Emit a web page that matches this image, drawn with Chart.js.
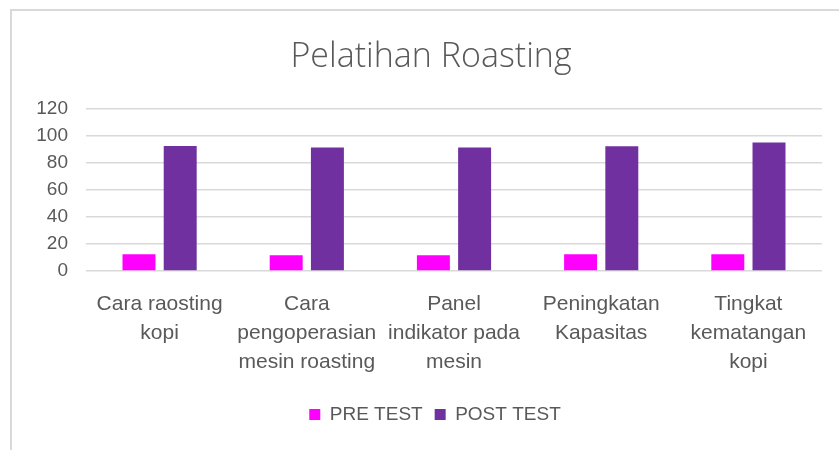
<!DOCTYPE html>
<html>
<head>
<meta charset="utf-8">
<script src="https://cdn.jsdelivr.net/npm/chart.js@4/dist/chart.umd.min.js"></script>
<style>
    html, body { margin: 0; padding: 0; background: #fff; }
    #wrap { position: relative; width: 839px; height: 450px; overflow: hidden; }
    #frame { position: absolute; left: 10px; top: 9px; width: 900px; height: 500px;
             border-top: 2px solid #d9d9d9; border-left: 2px solid #d9d9d9; }
    canvas { position: absolute; left: 0; top: 0; }
</style>
</head>
<body>
<div id="wrap">
    <div id="frame"></div>
    <canvas id="roastChart" width="839" height="450"></canvas>
</div>
<script>
const categories = [
    ['Cara raosting', 'kopi'],
    ['Cara', 'pengoperasian', 'mesin roasting'],
    ['Panel', 'indikator pada', 'mesin'],
    ['Peningkatan', 'Kapasitas'],
    ['Tingkat', 'kematangan', 'kopi'],
];
const preTest = [12.3, 11.6, 11.6, 12.3, 12.3];
const postTest = [92.5, 91.4, 91.4, 92.3, 95];
const yTicks = [0, 20, 40, 60, 80, 100, 120];

const fontFamily = '"Liberation Sans Narrow", "Liberation Sans", sans-serif';
const textColor = '#595959';

// nudge the title and legend a bit to the right, like the original
const blockShift = {
    id: 'blockShift',
    afterLayout(chart) {
        if (chart.legend) chart.legend.left += 48;
        if (chart.titleBlock) chart.titleBlock.left += 40;
    },
};

new Chart(document.getElementById('roastChart'), {
    type: 'bar',
    data: {
        labels: categories,
        datasets: [{
            label: 'PRE TEST',
            data: preTest,
            backgroundColor: '#ff00ff',
            categoryPercentage: 0.56,
            barPercentage: 0.8,
        }, {
            label: 'POST TEST',
            data: postTest,
            backgroundColor: '#7030a0',
            categoryPercentage: 0.56,
            barPercentage: 0.8,
        }],
    },
    options: {
        responsive: false,
        animation: false,
        layout: {
            padding: { left: 0, right: 17, top: 0, bottom: 16 },
        },
        plugins: {
            title: {
                display: true,
                text: 'Pelatihan Roasting',
                color: textColor,
                font: { family: '"Open Sans", sans-serif', size: 34, weight: '300' },
                padding: { top: 37, bottom: 31 },
            },
            legend: {
                position: 'bottom',
                labels: {
                    color: textColor,
                    font: { family: fontFamily, size: 19 },
                    boxWidth: 11,
                    boxHeight: 11,
                    padding: 12,
                },
            },
            tooltip: { enabled: false },
        },
        scales: {
            x: {
                grid: { display: false },
                border: { display: false },
                ticks: {
                    color: textColor,
                    font: { family: fontFamily, size: 21, lineHeight: 1.38 },
                    maxRotation: 0,
                    autoSkip: false,
                    padding: 11,
                },
                afterFit: (scale) => { scale.height = 122; },
            },
            y: {
                min: 0,
                max: 120,
                afterBuildTicks: (scale) => { scale.ticks = yTicks.map(v => ({ value: v })); },
                grid: { color: '#d9d9d9', lineWidth: 1.5, drawTicks: false },
                border: { display: false },
                ticks: {
                    color: textColor,
                    font: { family: fontFamily, size: 19 },
                    padding: 18,
                },
                afterFit: (scale) => { scale.width = 86; },
            },
        },
    },
    plugins: [blockShift],
});
</script>
</body>
</html>
